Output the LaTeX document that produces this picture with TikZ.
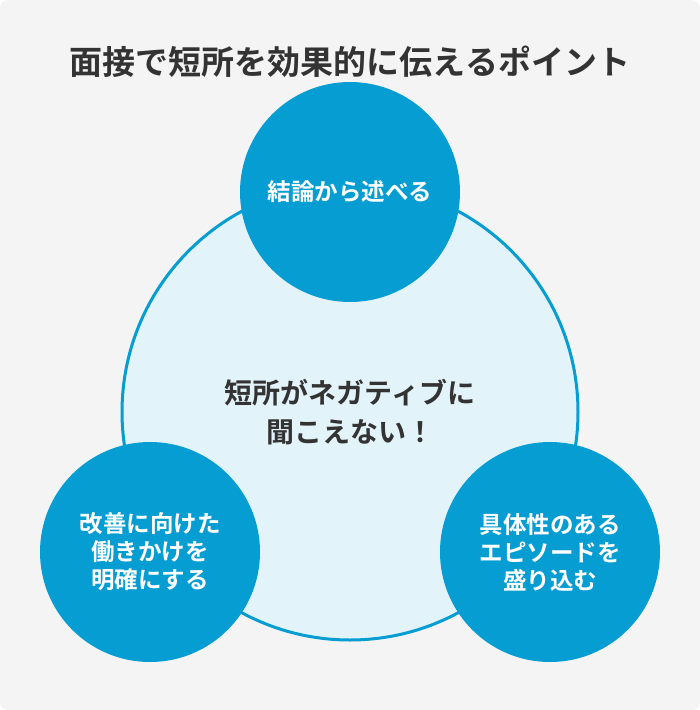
\documentclass[tikz,border=0pt]{standalone}
\usepackage{fontspec}
\setmainfont{Noto Sans CJK JP}[BoldFont={Noto Sans CJK JP Bold}]
\usepackage{tikz}
\definecolor{bgGray}{HTML}{F4F4F5}
\definecolor{ptBlue}{HTML}{069DD2}
\definecolor{ptLight}{HTML}{E3F3FA}
\definecolor{ptText}{HTML}{333333}
\tikzset{
  point/.style={circle, fill=ptBlue, minimum size=220pt, inner sep=0pt, text=white,
    font=\bfseries\fontsize{23.5}{28}\selectfont, align=center},
}
\begin{document}
\begin{tikzpicture}[x=1pt, y=-1pt]

% background
\fill[bgGray, rounded corners=8pt] (0,0) rectangle (700,710);
\useasboundingbox (0,0) rectangle (700,710);

% title
\node[text=ptText, font=\bfseries\fontsize{33}{38}\selectfont] (title) at (350,62) {面接で短所を効果的に伝えるポイント};

% center circle
\node[circle, fill=ptLight, draw=ptBlue, line width=3pt, minimum size=456pt, inner sep=0pt,
  text=ptText, font=\bfseries\fontsize{28}{39}\selectfont, align=center] (core) at (350,412)
  {短所がネガティブに\\聞こえない！};

% points
\node[point] (top) at (350,192) {結論から述べる};
\node[point] (left) at (150,552) {改善に向けた\\働きかけを\\明確にする};
\node[point] (right) at (550,552) {具体性のある\\エピソードを\\盛り込む};

\end{tikzpicture}
\end{document}
